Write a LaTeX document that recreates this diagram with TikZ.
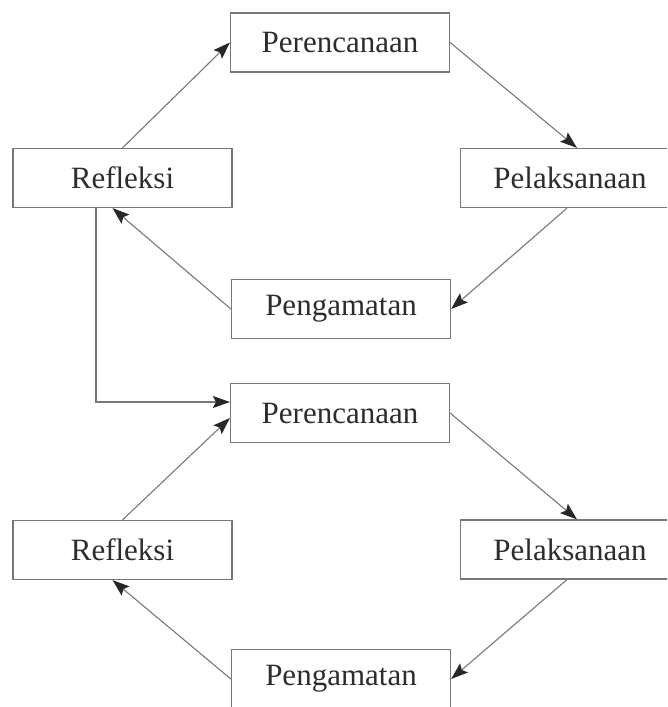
\documentclass[tikz,border=0pt]{standalone}
\usepackage{fontspec}
\setmainfont{Liberation Serif}
\usetikzlibrary{arrows.meta}
\definecolor{linegray}{RGB}{120,120,120}
\definecolor{headgray}{RGB}{40,40,40}
\definecolor{textgray}{RGB}{45,45,45}
\tikzset{
  stagebox/.style={draw=linegray, line width=1.2pt, inner sep=0pt,
    minimum width=219pt, minimum height=59pt, text=textgray,
    font=\fontsize{31}{34}\selectfont},
  arr/.style={draw=linegray, line width=1.1pt,
    -{Stealth[length=17pt,width=12pt,inset=3pt,color=headgray]}}
}
\begin{document}
\begin{tikzpicture}[x=1pt,y=-1pt]
\useasboundingbox (0,0) rectangle (667,707);
\clip (0,0) rectangle (667,707);
\node[stagebox] (p1) at (340,42.5) {Perencanaan};
\node[stagebox] (r1) at (122.5,178) {Refleksi};
\node[stagebox] (l1) at (570,178) {Pelaksanaan};
\node[stagebox] (g1) at (341,309) {Pengamatan};
\node[stagebox] (p2) at (340,413) {Perencanaan};
\node[stagebox] (r2) at (122.5,550) {Refleksi};
\node[stagebox] (l2) at (570,549.5) {Pelaksanaan};
\node[stagebox] (g2) at (341,679) {Pengamatan};
\draw[arr] (r1.north) -- (p1.west);
\draw[arr] (p1.east) -- ([xshift=7pt]l1.north);
\draw[arr] ([xshift=-3pt]l1.south) -- (g1.east);
\draw[arr] (g1.west) -- ([xshift=-10pt]r1.south);
\draw[arr] ([xshift=-26.5pt]r1.south) |- ([yshift=11pt]p2.west);
\draw[arr] (r2.north) -- ([yshift=-5pt]p2.west);
\draw[arr] (p2.east) -- ([xshift=7pt]l2.north);
\draw[arr] ([xshift=-3pt]l2.south) -- (g2.east);
\draw[arr] (g2.west) -- ([xshift=-10pt]r2.south);
\end{tikzpicture}
\end{document}
